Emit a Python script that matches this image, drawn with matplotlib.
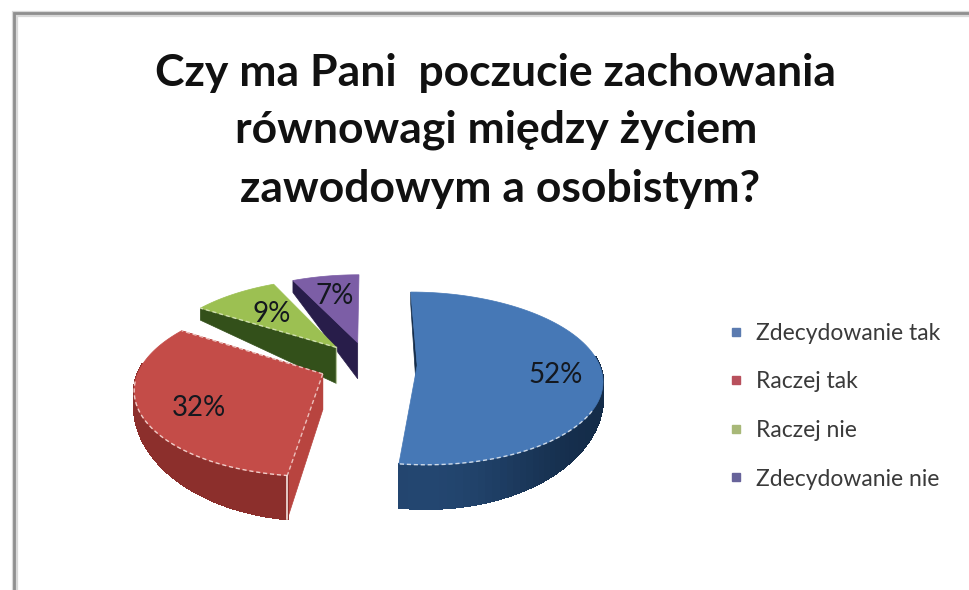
import numpy as np
import matplotlib
matplotlib.use('Agg')
import matplotlib.pyplot as plt
from matplotlib.lines import Line2D
from matplotlib.patches import Polygon
from matplotlib.colors import to_rgb

title_lines = ['Czy ma Pani  poczucie zachowania',
               'równowagi między życiem',
               'zawodowym a osobistym?']
categories = ['Zdecydowanie tak', 'Raczej tak', 'Raczej nie', 'Zdecydowanie nie']
shares = [52, 32, 9, 7]

top_colors = ['#4678b6', '#c44c48', '#9cc052', '#7c5ea6']
wall_light = ['#234670', '#b0403c', '#47691f', '#3a2c66']
wall_dark = ['#142c49', '#8c2f2c', '#33501a', '#281d4a']
legend_colors = ['#5b7bb0', '#b8505c', '#a8b878', '#67639a']

# pie geometry in pixels
ox, oy = 368, 364
fx, fy = 182, 84
persp = 0.15
explode = 0.27
label_r = [0.75, 0.72, 0.61, 0.675]
label_nudge = [-5, 6, 0, 0]


def project(x, y):
    w = 1 / (1 + persp * y)
    return ox + fx * x * w, oy - fy * y * w


def rim_height(theta):
    s = np.sin(np.radians(theta))
    return 12 + 32 * np.abs(np.minimum(s, 0)) ** 1.3


def blend(c1, c2, t):
    a, b = np.array(to_rgb(c1)), np.array(to_rgb(c2))
    return tuple(a + (b - a) * t)


fig = plt.figure(figsize=(9.69, 5.9), dpi=100)
ax = fig.add_axes([0, 0, 1, 1])
ax.set_xlim(0, 969)
ax.set_ylim(590, 0)
ax.axis('off')

# slide frame
ax.plot([15, 15, 969], [590, 14, 14], color='#d8d8d8', lw=4.5, solid_joinstyle='miter')
ax.plot([14, 14, 969], [590, 13, 13], color='#8f8f8f', lw=2, solid_joinstyle='miter')

# angles run clockwise from the top of the pie
edges = 90 - np.cumsum([0] + shares) * 3.6
slices = []
for i in range(len(shares)):
    start, end = edges[i], edges[i + 1]
    mid = np.radians((start + end) / 2)
    slices.append((i, start, end, explode * np.cos(mid), explode * np.sin(mid)))


def rim_point(ex, ey, theta, r=1.0):
    t = np.radians(theta)
    return project(ex + r * np.cos(t), ey + r * np.sin(t))


def radial_wall(ex, ey, theta, color, zorder):
    ax_, ay_ = project(ex, ey)
    rx_, ry_ = rim_point(ex, ey, theta)
    h = rim_height(theta)
    ax.add_patch(Polygon([(ax_, ay_), (rx_, ry_), (rx_, ry_ + h), (ax_, ay_ + 36)],
                         closed=True, fc=color, ec=color, lw=0.5, zorder=zorder))


# back slices first so the red one sits over the green wall
for i, start, end, ex, ey in [slices[3], slices[2], slices[0], slices[1]]:
    z = {3: 2, 2: 3, 0: 4, 1: 5}[i]
    ax0, ay0 = project(ex, ey)

    # radial side walls
    if i == 0:
        radial_wall(ex, ey, start, wall_dark[i], z)
    elif i == 1:
        radial_wall(ex, ey, end, wall_light[i], z)
        radial_wall(ex, ey, start, '#b8443f', z)
    else:
        radial_wall(ex, ey, start, wall_dark[i], z)

    # outer wall, strip by strip so it can shade along the arc
    thetas = np.linspace(start, end, 90)
    for a, b in zip(thetas[:-1], thetas[1:]):
        if np.sin(np.radians((a + b) / 2)) > 0.12:
            continue
        t = min(abs(np.sin(np.radians(a))), 1) ** 6
        if i == 1:
            t = np.clip((a + 270) / 90, 0, 1)
            col = blend(wall_dark[i], wall_light[i], 1 - t)
        else:
            col = blend(wall_dark[i], wall_light[i], t)
        x1, y1 = rim_point(ex, ey, a)
        x2, y2 = rim_point(ex, ey, b)
        ax.add_patch(Polygon([(x1, y1), (x2, y2), (x2, y2 + rim_height(b)), (x1, y1 + rim_height(a))],
                             closed=True, fc=col, ec=col, lw=1, antialiased=False, zorder=z))

    # top face
    pts = [rim_point(ex, ey, th) for th in thetas]
    ax.add_patch(Polygon([(ax0, ay0)] + pts, closed=True, fc=top_colors[i], ec=top_colors[i],
                         lw=0.5, zorder=z + 0.1))

    # light dashed bevel along the visible edges
    dash = (0, (3, 2))
    if i == 0:
        front = [rim_point(ex, ey, th) for th in np.linspace(-30, end, 40)]
        ax.plot(*zip(*front), color='white', lw=1, alpha=0.75, ls=dash, zorder=z + 0.2)
    elif i == 1:
        front = [rim_point(ex, ey, th) for th in np.linspace(-175, start, 50)]
        ax.plot(*zip(*front), color='#f6dcd8', lw=1, alpha=0.9, ls=dash, zorder=z + 0.2)
        for th in (start, end):
            ax.plot(*zip((ax0, ay0), rim_point(ex, ey, th)), color='#f6dcd8', lw=1, alpha=0.8,
                    ls=dash, zorder=z + 0.2)
        bx, by = rim_point(ex, ey, start)
        ax.plot([bx, bx], [by, by + rim_height(start)], color='#f4e4e0', lw=1.2, zorder=z + 0.2)
    elif i == 2:
        ax.plot(*zip((ax0, ay0), rim_point(ex, ey, start)), color='#dfeac6', lw=1, alpha=0.8,
                ls=dash, zorder=z + 0.2)
        ax.plot([ax0, ax0], [ay0, ay0 + 36], color='#dfeac6', lw=1, alpha=0.7, zorder=z + 0.2)

    # percentage label
    th = (start + end) / 2 + label_nudge[i]
    lx, ly = rim_point(ex, ey, th, label_r[i])
    ax.text(lx, ly, f'{shares[i]}%', ha='center', va='center', fontsize=20,
            family='Lato', color='#14181f', zorder=10)

# title, one text per line
title_x = [496, 496, 500]
title_y = [73, 130, 189]
for line, tx, ty in zip(title_lines, title_x, title_y):
    ax.text(tx, ty, line, ha='center', va='center', fontsize=32, family='Lato',
            fontweight='bold', color='#111111')

handles = [Line2D([], [], ls='none', marker='s', ms=6, color=c) for c in legend_colors]
leg = ax.legend(handles, categories, loc='upper left', bbox_to_anchor=(723, 323),
                bbox_transform=ax.transData, frameon=False, labelspacing=1.2,
                handletextpad=0.29, handlelength=1.15, borderpad=0, borderaxespad=0,
                prop={'family': 'Lato', 'size': 16.5})
for t in leg.get_texts():
    t.set_color('#3a3a3a')

fig.savefig('out.png', dpi=100, facecolor='white')
